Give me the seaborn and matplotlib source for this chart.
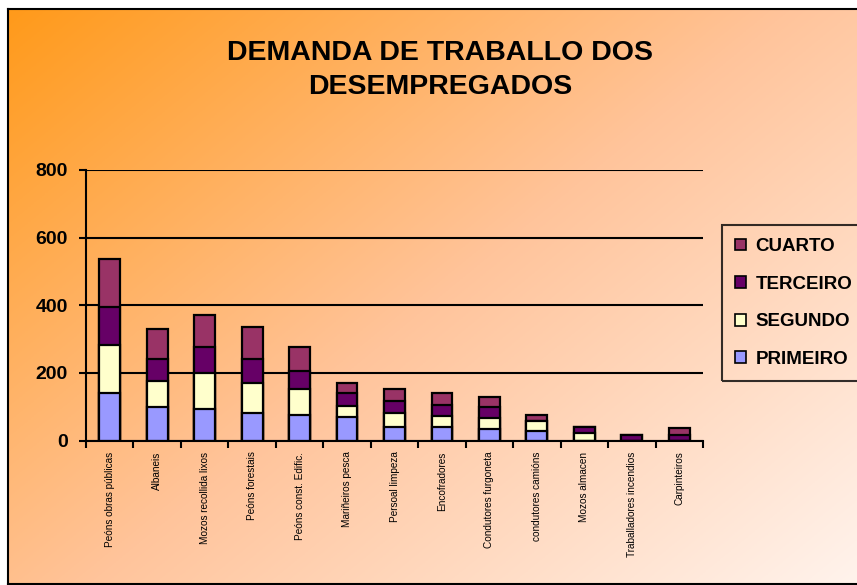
import matplotlib
matplotlib.use("Agg")
import matplotlib.pyplot as plt
import matplotlib.patches as mpatches
import seaborn as sns
import numpy as np

# Occupations (x categories)
categories = ["Peóns obras públicas", "Albaneis", "Mozos recollida lixos",
              "Peóns forestais", "Peóns const. Edific.", "Mariñeiros pesca",
              "Persoal limpeza", "Encofradores", "Condutores furgoneta",
              "condutores camións", "Mozos almacen", "Traballadores incendios",
              "Carpinteiros"]

# Series values (stacked from bottom: primeiro, segundo, terceiro, cuarto)
primeiro = [140, 99, 93, 81, 76, 69, 39, 39, 34, 28, 0, 0, 0]
segundo = [143, 77, 106, 88, 77, 34, 42, 34, 34, 31, 23, 0, 0]
terceiro = [113, 66, 77, 73, 54, 37, 36, 32, 30, 0, 18, 17, 17]
cuarto = [142, 88, 96, 94, 70, 30, 36, 36, 31, 17, 0, 0, 19]

series_names = ["PRIMEIRO", "SEGUNDO", "TERCEIRO", "CUARTO"]
series_colors = ["#9999FF", "#FFFFCC", "#660066", "#993366"]
y_ticks = [0, 200, 400, 600, 800]

sns.set_style("white")
plt.rcParams["font.family"] = ["Liberation Sans", "DejaVu Sans"]
plt.rcParams["text.color"] = "black"
plt.rcParams["xtick.color"] = "black"
plt.rcParams["ytick.color"] = "black"
plt.rcParams["axes.labelcolor"] = "black"

fig = plt.figure(figsize=(8.57, 5.85), dpi=100)

# Gradient background of the chart area
bg = fig.add_axes([8 / 857, 1 / 585, 1.0, 575 / 585], zorder=0)
h, w = 200, 300
yy, xx = np.mgrid[0:h, 0:w]
t = (xx / w * 0.55 + yy / h * 0.45)
stops_t = [0.0, 0.5, 1.0]
stops_c = np.array([[255, 154, 26], [255, 196, 155], [255, 244, 238]]) / 255
img = np.stack([np.interp(t, stops_t, stops_c[:, k]) for k in range(3)], axis=-1)
bg.imshow(img, aspect="auto", extent=[0, 1, 0, 1], origin="upper")
bg.set_xlim(0, 1)
bg.set_ylim(0, 1)
bg.set_xticks([])
bg.set_yticks([])
for side in ["left", "top", "bottom"]:
    bg.spines[side].set_color("black")
    bg.spines[side].set_linewidth(1.5)
bg.spines["right"].set_visible(False)

ax = fig.add_axes([86 / 857, 1 - 440.5 / 585, 617 / 857, 270.5 / 585], zorder=1)
ax.patch.set_alpha(0)

# Stacked bars: draw cumulative totals from the top series down
stack = np.array([primeiro, segundo, terceiro, cuarto])
cum = np.cumsum(stack, axis=0)
for i in range(3, -1, -1):
    sns.barplot(x=categories, y=cum[i], color=series_colors[i], saturation=1,
                edgecolor="black", linewidth=1.6, width=0.44, ax=ax, zorder=3)

ax.set_ylim(0, 800)
ax.set_xlim(-0.5, len(categories) - 0.5)
ax.set_yticks(y_ticks)
ax.set_yticklabels([str(v) for v in y_ticks], fontsize=14, fontweight="bold")
ax.yaxis.grid(True, color="black", linewidth=1.5)
ax.set_axisbelow(True)
ax.set_xlabel("")
ax.set_ylabel("")

ax.set_xticks(range(len(categories)))
ax.set_xticklabels(categories, rotation=90, fontsize=7.2, va="top", ha="center")
ax.set_xticks(np.arange(-0.5, len(categories)), minor=True)
ax.tick_params(axis="x", which="major", length=0, pad=8)
ax.tick_params(axis="x", which="minor", length=5, width=1.5, color="black",
               direction="out", bottom=True)
ax.tick_params(axis="y", length=5, width=1.5, color="black", direction="out",
               left=True, pad=8)

for side in ["top", "right"]:
    ax.spines[side].set_visible(False)
for side in ["left", "bottom"]:
    ax.spines[side].set_color("black")
    ax.spines[side].set_linewidth(1.5)
    ax.spines[side].set_zorder(4)

fig.text(440 / 857, 1 - 70 / 585, "DEMANDA DE TRABALLO DOS\nDESEMPREGADOS",
         ha="center", va="center", fontsize=20.5, fontweight="bold",
         linespacing=1.45, zorder=5, color="black")

handles = [mpatches.Patch(facecolor=series_colors[i], edgecolor="black",
                          linewidth=1.2, label=series_names[i])
           for i in range(3, -1, -1)]
leg = fig.legend(handles=handles, loc="upper left",
                 bbox_to_anchor=(722 / 857, 1 - 225 / 585),
                 bbox_transform=fig.transFigure, borderaxespad=0,
                 prop={"weight": "bold", "size": 13.5},
                 handlelength=0.6, handleheight=0.6, handletextpad=0.5,
                 labelspacing=1.1, borderpad=0.7, fancybox=False)
leg.get_frame().set_facecolor("none")
leg.get_frame().set_edgecolor("black")
leg.get_frame().set_linewidth(1.5)
leg.set_zorder(5)

fig.savefig("out.png", dpi=100)
